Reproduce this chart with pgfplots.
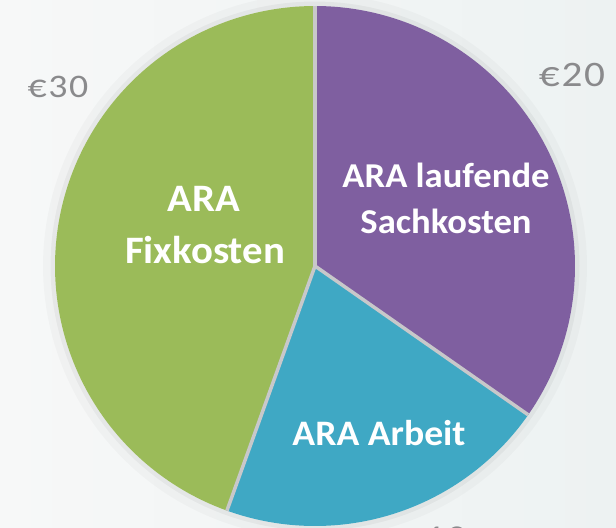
\documentclass[border=0pt]{standalone}
\usepackage{pgfplots}
\pgfplotsset{compat=1.18}
\usepackage{fontspec}
\setmainfont{Carlito}
\newfontfamily\labfont[FakeStretch=1.05]{Carlito}
\newfontfamily\eurfont[FakeStretch=1.15,LetterSpace=5]{Carlito}
\definecolor{cgreen}{HTML}{9BBB59}
\definecolor{cpurple}{HTML}{7F5FA0}
\definecolor{cblue}{HTML}{3FA8C4}
\definecolor{csep}{HTML}{C8C8CA}
\definecolor{ceur}{HTML}{8A8A8C}
\definecolor{bgL}{HTML}{F7F8F8}
\definecolor{bgR}{HTML}{EDF2F2}
% slice values (share of total, %)
\pgfmathsetmacro{\vS}{34.7} % ARA laufende Sachkosten
\pgfmathsetmacro{\vA}{20.8} % ARA Arbeit
\pgfmathsetmacro{\vF}{44.5} % ARA Fixkosten
\pgfmathsetmacro{\tot}{\vS+\vA+\vF}
\pgfmathsetmacro{\aZero}{90}
\pgfmathsetmacro{\aOne}{90-360*\vS/\tot}
\pgfmathsetmacro{\aTwo}{\aOne-360*\vA/\tot}
\pgfmathsetmacro{\aThree}{\aTwo-360*\vF/\tot}
\begin{document}
\begin{tikzpicture}
\useasboundingbox (0,0) rectangle (616bp,528bp);
\begin{axis}[
  width=616bp, height=528bp, scale only axis,
  xmin=0, xmax=616, ymin=0, ymax=528, y dir=reverse,
  axis lines=none, ticks=none,
]
% background
\addplot[draw=none, left color=bgL, right color=bgR] coordinates {(0,0) (616,0) (616,528) (0,528)} -- cycle;
% soft shadow
\addplot[black, opacity=0.025, line width=12bp, domain=0:360, samples=180] ({315+266*cos(x)},{266-266*sin(x)});
\addplot[black, opacity=0.04, line width=5bp, domain=0:360, samples=180] ({315+262*cos(x)},{266-262*sin(x)});
% slices
\addplot[fill=cpurple, draw=none, domain=\aOne:\aZero, samples=120] ({315+260*cos(x)},{266-260*sin(x)}) -- (315,266) -- cycle;
\addplot[fill=cblue, draw=none, domain=\aTwo:\aOne, samples=120] ({315+260*cos(x)},{266-260*sin(x)}) -- (315,266) -- cycle;
\addplot[fill=cgreen, draw=none, domain=\aThree:\aTwo, samples=120] ({315+260*cos(x)},{266-260*sin(x)}) -- (315,266) -- cycle;
% separators
\addplot[csep, line width=3.5bp, domain=0:260, samples=2] ({315+x*cos(\aZero)},{266-x*sin(\aZero)});
\addplot[csep, line width=3.5bp, domain=0:260, samples=2] ({315+x*cos(\aOne)},{266-x*sin(\aOne)});
\addplot[csep, line width=3.5bp, domain=0:260, samples=2] ({315+x*cos(\aTwo)},{266-x*sin(\aTwo)});
% labels
\node[anchor=base, text=white, font=\labfont\bfseries\fontsize{39}{44}\selectfont] at (204,211) {ARA};
\node[anchor=base, text=white, font=\labfont\bfseries\fontsize{39}{44}\selectfont] at (205,263) {Fixkosten};
\node[anchor=base, text=white, font=\labfont\bfseries\fontsize{35}{40}\selectfont] at (446,187) {ARA laufende};
\node[anchor=base, text=white, font=\labfont\bfseries\fontsize{35}{40}\selectfont] at (446,233) {Sachkosten};
\node[anchor=base, text=white, font=\labfont\bfseries\fontsize{36}{40}\selectfont] at (379,445) {ARA Arbeit};
\node[anchor=base, text=ceur, font=\eurfont\fontsize{33}{36}\selectfont] at (58,97) {€30};
\node[anchor=base, text=ceur, font=\eurfont\fontsize{36}{40}\selectfont] at (572,87) {€20};
\node[anchor=base, text=ceur, font=\eurfont\fontsize{35}{40}\selectfont] at (435,549) {€10};
\end{axis}
\end{tikzpicture}
\end{document}
